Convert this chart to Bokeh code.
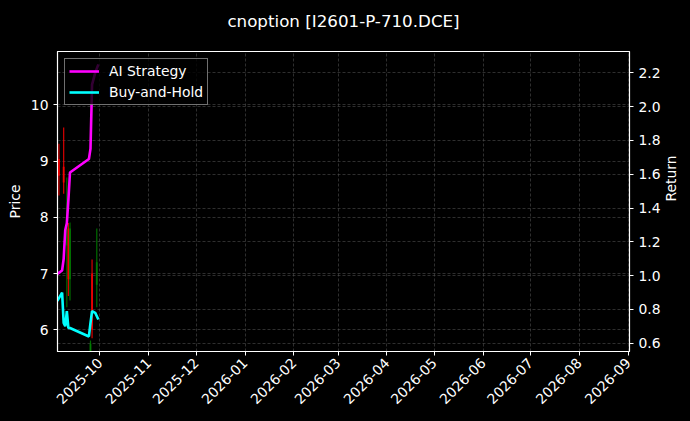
from datetime import datetime
from math import pi
from bokeh.plotting import figure
from bokeh.models import (Range1d, LinearAxis, Legend, LegendItem, Grid, SingleIntervalTicker, Title,
                          MonthsTicker, DatetimeTickFormatter, PrintfTickFormatter, ColumnDataSource)
from bokeh.embed import file_html
from bokeh.resources import INLINE

chart_title = "cnoption [I2601-P-710.DCE]"

# strategy curves (return axis)
line_dates = ["2025-09-04", "2025-09-07", "2025-09-08", "2025-09-09", "2025-09-10", "2025-09-11",
              "2025-09-12", "2025-09-24", "2025-09-25", "2025-09-26", "2025-09-28", "2025-09-30"]
ai_return = [1.01, 1.03, 1.10, 1.27, 1.31, 1.45, 1.61, 1.69, 1.75, 2.13, 2.20, 2.25]
bh_return = [0.85, 0.90, 0.72, 0.70, 0.79, 0.69, 0.69, 0.64, 0.72, 0.79, 0.78, 0.74]

# candles (price axis)
candle_dates = ["2025-09-05", "2025-09-08", "2025-09-10", "2025-09-11", "2025-09-12",
                "2025-09-25", "2025-09-26", "2025-09-29"]
opens = [9.04, 8.90, 7.50, 7.80, 6.90, 5.50, 7.00, 6.80]
highs = [9.31, 9.60, 8.71, 7.90, 7.91, 5.81, 7.25, 7.80]
lows = [8.39, 8.42, 6.40, 6.60, 6.52, 5.30, 5.85, 6.40]
closes = [8.74, 8.62, 7.90, 6.90, 7.80, 5.75, 6.00, 7.20]

x_start = datetime(2025, 9, 4, 2)
x_end = datetime(2026, 9, 1, 20)
price_lo, price_hi = 5.614, 10.95
ret_lo, ret_hi = 0.551, 2.326

FONT = "DejaVu Sans"
FS = "13.9px"

def to_dt(s):
    return datetime.strptime(s, "%Y-%m-%d")

p = figure(width=690, height=421, x_axis_type="datetime", output_backend="svg",
           toolbar_location=None, x_range=Range1d(x_start, x_end),
           y_range=Range1d(price_lo, price_hi),
           min_border_left=57, min_border_right=61, min_border_top=51, min_border_bottom=70)
p.background_fill_color = "black"
p.border_fill_color = "black"
p.outline_line_color = "white"
p.outline_line_width = 1.2

p.title.text = chart_title
p.title.align = "center"
p.title.text_color = "white"
p.title.text_font = FONT
p.title.text_font_style = "normal"
p.title.text_font_size = "16.7px"

# blank spacer title to lift the main title away from the frame
p.add_layout(Title(text=" ", text_font_size="9px", text_color="black", standoff=4), "above")

p.extra_y_ranges = {"ret": Range1d(ret_lo, ret_hi)}

# candles
cdates = [to_dt(d) for d in candle_dates]
colors = ["green" if c >= o else "red" for o, c in zip(opens, closes)]
csrc = ColumnDataSource(dict(x=cdates, o=opens, h=highs, l=lows, c=closes,
                             top=[max(o, c) for o, c in zip(opens, closes)],
                             bottom=[min(o, c) for o, c in zip(opens, closes)],
                             color=colors))
p.segment(x0="x", y0="l", x1="x", y1="h", color="color", line_width=1.2, line_alpha=0.85, source=csrc)
p.vbar(x="x", top="top", bottom="bottom", width=1.2 * 86400000, fill_color="color",
       line_color=None, fill_alpha=0.8, source=csrc)

# lines
ldates = [to_dt(d) for d in line_dates]
r_ai = p.line(ldates, ai_return, color="#FF00FF", line_width=2.6, y_range_name="ret")
r_bh = p.line(ldates, bh_return, color="#00FFFF", line_width=2.6, y_range_name="ret")

# axes styling
xa = p.xaxis[0]
xa.ticker = MonthsTicker(months=list(range(1, 13)))
xa.formatter = DatetimeTickFormatter(months="%Y-%m", days="%Y-%m", years="%Y-%m")
xa.major_label_orientation = pi / 4

ya = p.yaxis[0]
ya.ticker = SingleIntervalTicker(interval=1)
ya.formatter = PrintfTickFormatter(format="%d")
ya.axis_label = "Price"

ra = LinearAxis(y_range_name="ret", ticker=SingleIntervalTicker(interval=0.2),
                formatter=PrintfTickFormatter(format="%.1f"), axis_label="Return")
ra.axis_label_orientation = pi / 2
ra.axis_label_standoff = 7
p.add_layout(ra, "right")

for ax in (xa, ya, ra):
    ax.axis_line_color = "white"
    ax.major_tick_line_color = "white"
    ax.minor_tick_line_color = None
    ax.major_tick_in = 0
    ax.major_tick_out = 4
    ax.major_label_text_color = "white"
    ax.major_label_text_font = FONT
    ax.major_label_text_font_size = FS
    ax.axis_label_text_color = "white"
    ax.axis_label_text_font = FONT
    ax.axis_label_text_font_size = FS
    ax.axis_label_text_font_style = "normal"

# grids
for g in p.grid:
    g.grid_line_color = "#555555"
    g.grid_line_dash = "3 2"
    g.grid_line_width = 0.6
    g.grid_line_alpha = 0.9
g2 = Grid(dimension=1, ticker=ra.ticker, y_range_name="ret", grid_line_color="#555555",
          grid_line_dash="3 2", grid_line_width=0.6, grid_line_alpha=0.9)
p.add_layout(g2)

legend = Legend(items=[LegendItem(label="AI Strategy", renderers=[r_ai]),
                       LegendItem(label="Buy-and-Hold", renderers=[r_bh])],
                location="top_left")
legend.background_fill_color = "black"
legend.background_fill_alpha = 0.8
legend.border_line_color = "#DDDDDD"
legend.label_text_color = "white"
legend.label_text_font = FONT
legend.label_text_font_size = FS
legend.glyph_width = 30
legend.glyph_height = 16
legend.label_height = 16
legend.label_standoff = 10
legend.spacing = 5
legend.margin = 7
legend.padding = 4
p.add_layout(legend)

html = file_html(p, INLINE)
html = html.replace("</head>", "<style>html, body { background-color: black; }</style>\n</head>", 1)
open("out.html", "w").write(html)
